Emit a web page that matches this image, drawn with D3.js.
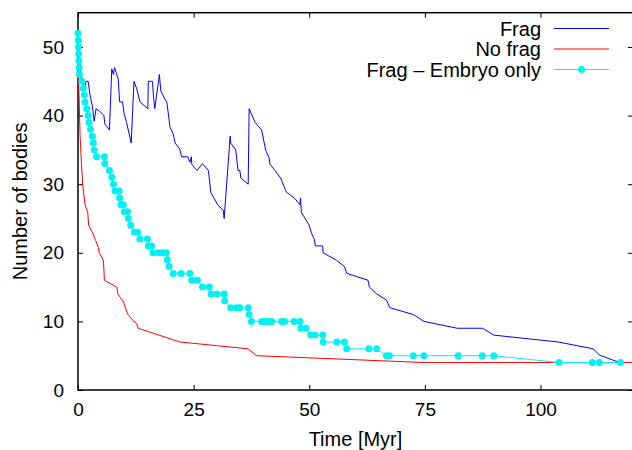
<!DOCTYPE html>
<html>
<head>
<meta charset="utf-8">
<script src="https://cdn.jsdelivr.net/npm/d3@7"></script>
<style>
  body { margin: 0; background: #fff; }
  text { font-family: "Liberation Sans", Arial, Helvetica, sans-serif; }
</style>
</head>
<body>
<div id="chart"></div>
<script>
// Frag (blue) - [time Myr, number of bodies]
const fragData = [
  [0,52],[0.6,46],[1.4,44],[1.8,45],[2.2,45],[2.6,43],[3.1,41.4],[3.5,39.2],[3.9,41],[4.75,40.6],
  [5.6,40],[5.8,38.8],[6.8,37.9],[7.3,46.8],[7.65,46],[7.9,47],[8.7,45.3],[9.0,42],[9.65,42],[9.9,40.5],
  [10.5,39],[11.5,36],[12.1,45],[12.7,43.9],[13.4,42],[15.1,41],[15.2,45],[16.1,45],[16.3,43],[16.6,41],
  [17.6,46],[17.9,43.6],[18.8,42.4],[19.2,42],[19.9,38.3],[20.6,37.3],[21.0,36],[22.0,35.1],[22.4,34],[23.7,34],
  [24.2,33.2],[24.5,34],[24.6,32.9],[25.7,32],[26.9,33],[28.2,32],[28.7,28.8],[30.3,26.9],[31.4,26.2],[31.6,25],
  [32.9,37],[33.0,36],[34.1,35],[34.6,32],[35.0,32],[35.2,30.9],[36.8,30],[37.0,41],[38.3,39],[39.7,37.9],
  [40.6,34.9],[41.3,33.9],[41.5,32.9],[42.6,32],[43.8,30.9],[45.0,28.9],[46.9,27.9],[48.0,27],[48.1,28],[48.3,25.9],
  [50.0,24],[50.5,22.8],[51.1,22],[51.3,21],[52.9,21],[53.0,20],[55.9,18.9],[57.6,18],[58.1,17],[62.7,16],
  [63.0,15],[64.6,14],[66.7,13.1],[67.4,12],[72.5,11],[74.8,10],[82.0,9],[87.5,9],[89.9,8],[103.8,7],
  [111.4,6],[112.7,5.1],[117.1,4]
];

// No frag (red)
const noFragData = [
  [0,52],[0.15,45],[0.45,37],[0.75,33],[1.0,30],[1.5,27.1],[2.1,25.9],[2.3,24],[3.1,23],[3.8,21.8],
  [4.4,20.8],[4.6,20],[5.5,18.9],[5.7,16],[8.4,15],[8.6,14],[9.8,12.9],[10.7,11.1],[11.9,10.1],[12.7,9.7],
  [13.0,9],[22.0,7],[36.8,6],[38.6,5],[75,4],[120,4]
];

// Frag - Embryo only (cyan, with points)
const embryoData = [
  [0,52],[0.05,51],[0.1,50],[0.15,49],[0.2,48],[0.25,47],[0.3,46],[0.8,45],[1.15,44],[1.36,43],
  [1.5,42],[1.9,41],[2.2,40],[2.4,39],[2.7,38],[3.1,37],[3.3,36],[3.5,35],[4.0,34],[5.7,34],
  [5.8,33],[6.8,32],[7.3,31],[7.65,30],[8.0,29],[8.5,29],[8.9,29],[9.0,28],[9.3,27],[9.8,27],
  [10.0,26],[10.7,26],[10.9,25],[11.4,24],[12.2,23],[12.9,23],[13.4,22],[15.0,22],[15.2,21],[15.9,21],
  [16.2,20],[17.3,20],[18.2,20],[19.1,20],[19.3,19],[19.7,18],[20.6,17],[22.3,17],[24.2,17],[24.6,16],
  [25.8,16],[26.9,15],[28.4,15],[28.8,14],[30.1,14],[31.6,14],[31.7,13],[33.0,12],[34.3,12],[35.0,12],
  [36.8,12],[37.0,11],[37.5,10],[39.7,10],[40.4,10],[41.1,10],[41.9,10],[44.0,10],[44.7,10],[46.7,10],
  [48.0,10],[48.2,9],[49.3,9],[50.3,8],[51.2,8],[52.9,8],[53.0,7],[56.0,7],[57.6,7],[58.1,6],
  [62.9,6],[64.6,6],[66.7,5],[67.3,5],[72.5,5],[74.8,5],[82.2,5],[87.4,5],[89.9,5],[104.0,4],
  [111.2,4],[112.7,4],[117.3,4]
];

const seriesNames = ["Frag", "No frag", "Frag \u2013 Embryo only"];
const seriesColors = ["#0000ff", "#ff0000", "#00f2f2"];
const xTicks = [0, 25, 50, 75, 100];
const yTicks = [0, 10, 20, 30, 40, 50];
const xLabel = "Time [Myr]";
const yLabel = "Number of bodies";

const width = 632, height = 450;
const margin = { top: 12.7, right: -1, bottom: 60, left: 78 };
const labelSize = 20, tickSize = 19;

const svg = d3.select("#chart")
  .append("svg")
  .attr("width", width)
  .attr("height", height);

const x = d3.scaleLinear()
  .domain([0, 120])
  .range([margin.left, width - margin.right]);

const y = d3.scaleLinear()
  .domain([0, 55])
  .range([height - margin.bottom, margin.top]);

const tickLen = 5;

// axes with inward ticks, mirrored on top / right
svg.append("g")
  .attr("transform", `translate(0,${y(0)})`)
  .call(d3.axisBottom(x).tickValues(xTicks).tickSizeInner(-tickLen).tickSizeOuter(0).tickPadding(13))
  .call(g => g.select(".domain").remove());

svg.append("g")
  .attr("transform", `translate(0,${y(55)})`)
  .call(d3.axisTop(x).tickValues(xTicks).tickSizeInner(-tickLen).tickSizeOuter(0).tickFormat(""))
  .call(g => g.select(".domain").remove());

svg.append("g")
  .attr("transform", `translate(${x(0)},0)`)
  .call(d3.axisLeft(y).tickValues(yTicks).tickSizeInner(-tickLen).tickSizeOuter(0).tickPadding(14))
  .call(g => g.select(".domain").remove());

svg.append("g")
  .attr("transform", `translate(${x(120)},0)`)
  .call(d3.axisRight(y).tickValues(yTicks).tickSizeInner(-tickLen).tickSizeOuter(0).tickFormat(""))
  .call(g => g.select(".domain").remove());

svg.selectAll(".tick line").attr("stroke", "#000").attr("stroke-width", 1);
svg.selectAll(".tick text")
  .attr("font-size", tickSize)
  .attr("fill", "#000")
  .style("font-family", "'Liberation Sans', Arial, sans-serif");

// plot frame
svg.append("rect")
  .attr("x", x(0))
  .attr("y", y(55))
  .attr("width", x(120) - x(0))
  .attr("height", y(0) - y(55))
  .attr("fill", "none")
  .attr("stroke", "#000")
  .attr("stroke-width", 1.5);

// series
const line = d3.line()
  .x(d => x(d[0]))
  .y(d => y(d[1]));

const allSeries = [fragData, noFragData, embryoData];

allSeries.forEach((data, i) => {
  svg.append("path")
    .datum(data)
    .attr("d", line)
    .attr("fill", "none")
    .attr("stroke", seriesColors[i])
    .attr("stroke-width", 1);
});

svg.append("g")
  .selectAll("circle")
  .data(embryoData)
  .enter()
  .append("circle")
  .attr("cx", d => x(d[0]))
  .attr("cy", d => y(d[1]))
  .attr("r", 3.5)
  .attr("fill", seriesColors[2]);

// axis labels
svg.append("text")
  .attr("x", (x(0) + x(120)) / 2)
  .attr("y", 446)
  .attr("text-anchor", "middle")
  .attr("font-size", labelSize)
  .text(xLabel);

svg.append("text")
  .attr("transform", `translate(27,${(y(0) + y(55)) / 2}) rotate(-90)`)
  .attr("text-anchor", "middle")
  .attr("font-size", labelSize)
  .text(yLabel);

// legend
const legend = svg.append("g");
seriesNames.forEach((name, i) => {
  const ly = 28.5 + i * 20.5;
  legend.append("text")
    .attr("x", 541)
    .attr("y", ly + 7)
    .attr("text-anchor", "end")
    .attr("font-size", labelSize)
    .text(name);
  legend.append("line")
    .attr("x1", 554)
    .attr("x2", 609)
    .attr("y1", ly)
    .attr("y2", ly)
    .attr("stroke", seriesColors[i])
    .attr("stroke-width", 1);
  if (i === 2) {
    legend.append("circle")
      .attr("cx", 581.5)
      .attr("cy", ly)
      .attr("r", 3.5)
      .attr("fill", seriesColors[i]);
  }
});
</script>
</body>
</html>
